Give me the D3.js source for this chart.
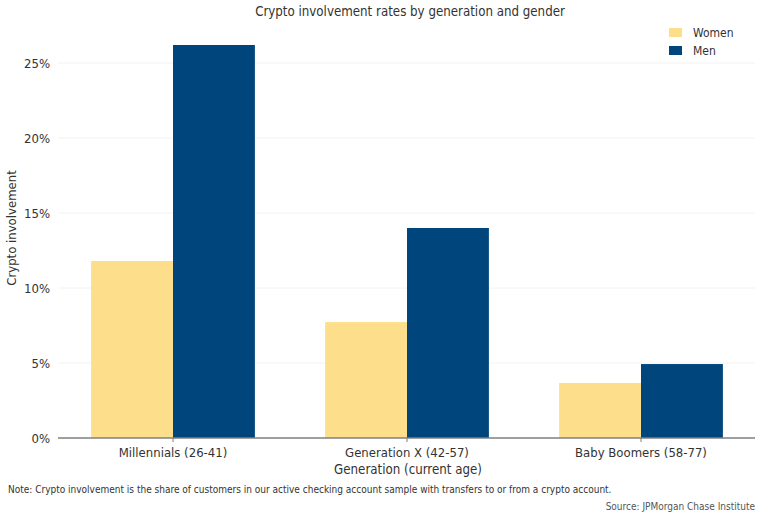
<!DOCTYPE html>
<html>
<head>
<meta charset="utf-8">
<script src="https://cdn.jsdelivr.net/npm/d3@7"></script>
<style>
  body { margin: 0; background: #fff; }
  text { font-family: "DejaVu Sans Condensed", "DejaVu Sans", sans-serif; fill: #333; }
</style>
</head>
<body>
<div id="chart"></div>
<script>
// crypto involvement by generation / gender

const svgWidth = 762
const svgHeight = 514

const generations = ["Millennials (26-41)", "Generation X (42-57)", "Baby Boomers (58-77)"]
const genders = ["Women", "Men"]
const women = [0.118, 0.0773, 0.0367]
const men = [0.262, 0.140, 0.0493]
const yTicks = [0, 0.05, 0.10, 0.15, 0.20, 0.25]
const colors = ["#fddf8b", "#00467c"]

const margin = {left: 58, right: 7, top: 22, bottom: 76}

var svg = d3.select("#chart")
    .append("svg")
    .attr("width", svgWidth)
    .attr("height", svgHeight)

var x = d3.scaleBand()
    .domain(generations)
    .range([56, 758])
    .paddingInner(0.3)
    .paddingOuter(0.15)

var xInner = d3.scaleBand()
    .domain(genders)
    .range([0, x.bandwidth()])

var y = d3.scaleLinear()
    .domain([0, 0.25])
    .range([438, 63])

// faint gridlines
svg.append("g")
    .selectAll("line")
    .data(yTicks.slice(1))
    .join("line")
    .attr("x1", margin.left)
    .attr("x2", svgWidth - margin.right)
    .attr("y1", d => y(d))
    .attr("y2", d => y(d))
    .style("stroke", "#f2f2f2")
    .style("stroke-width", 1)

// y tick labels
svg.append("g")
    .selectAll("text")
    .data(yTicks)
    .join("text")
    .attr("x", 50)
    .attr("y", d => y(d))
    .attr("dy", "0.35em")
    .attr("text-anchor", "end")
    .style("font-size", "13px")
    .text(d => d3.format(".0%")(d))

// bars
var rows = []
for (i = 0; i < generations.length; i++) {
    rows.push({gen: generations[i], gender: "Women", v: women[i]})
    rows.push({gen: generations[i], gender: "Men", v: men[i]})
}

svg.append("g")
    .selectAll("rect")
    .data(rows)
    .join("rect")
    .attr("x", d => x(d.gen) + xInner(d.gender))
    .attr("width", xInner.bandwidth())
    .attr("y", d => y(d.v))
    .attr("height", d => y(0) - y(d.v))
    .style("fill", d => colors[genders.indexOf(d.gender)])

// x axis
var xAxis = svg.append("g")
    .attr("transform", "translate(0," + y(0) + ")")
    .call(d3.axisBottom(x).tickSize(4).tickSizeOuter(0))
xAxis.select(".domain").remove()
xAxis.append("line")
    .attr("x1", margin.left)
    .attr("x2", svgWidth - margin.right)
    .style("stroke", "#7f7f7f")
    .style("stroke-width", 1.5)
xAxis.selectAll(".tick line").style("stroke", "#7f7f7f")
xAxis.selectAll(".tick text")
    .attr("y", 10)
    .style("font-size", "13px")
    .style("font-family", "DejaVu Sans Condensed, sans-serif")
    .style("fill", "#333")

// titles
svg.append("text")
    .attr("x", 410)
    .attr("y", 16)
    .attr("text-anchor", "middle")
    .style("font-size", "13.2px")
    .text("Crypto involvement rates by generation and gender")

svg.append("text")
    .attr("x", 408)
    .attr("y", 474)
    .attr("text-anchor", "middle")
    .style("font-size", "13.2px")
    .text("Generation (current age)")

svg.append("text")
    .attr("transform", "translate(16,228) rotate(-90)")
    .attr("text-anchor", "middle")
    .style("font-size", "13px")
    .text("Crypto involvement")

svg.append("text")
    .attr("x", 8)
    .attr("y", 493)
    .style("font-size", "10px")
    .text("Note: Crypto involvement is the share of customers in our active checking account sample with transfers to or from a crypto account.")

svg.append("text")
    .attr("x", 755)
    .attr("y", 510)
    .attr("text-anchor", "end")
    .style("font-size", "10px")
    .style("fill", "#555")
    .text("Source: JPMorgan Chase Institute")

// legend
var legend = svg.append("g")
    .selectAll("g")
    .data(genders)
    .join("g")
    .attr("transform", (d, i) => "translate(669," + (28 + i * 18) + ")")
legend.append("rect")
    .attr("width", 13)
    .attr("height", 9)
    .style("fill", (d, i) => colors[i])
legend.append("text")
    .attr("x", 24)
    .attr("y", 5)
    .attr("dy", "0.35em")
    .style("font-size", "12px")
    .text(d => d)
</script>
</body>
</html>
